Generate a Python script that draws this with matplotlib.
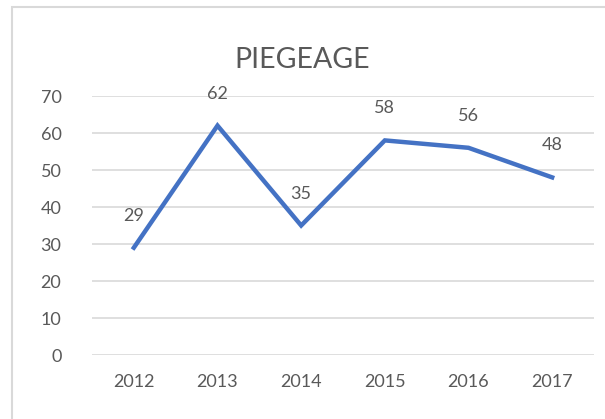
import matplotlib.pyplot as plt
from matplotlib.patches import Rectangle

years = ['2012', '2013', '2014', '2015', '2016', '2017']
values = [29, 62, 35, 58, 56, 48]
title = 'PIEGEAGE'

plt.rcParams['font.family'] = ['Lato', 'DejaVu Sans']
txt = '#595959'

fig = plt.figure(figsize=(6.05, 4.19), dpi=100)
# chart area border like in excel
fig.patches.append(Rectangle((12 / 605, -0.1), 1.2, 1 - 7 / 419 + 0.1,
                             transform=fig.transFigure, fill=False,
                             edgecolor='#D9D9D9', linewidth=1.5))
ax = fig.add_axes([92 / 605, 1 - 355 / 419, 502 / 605, 259 / 419])

x = range(len(years))
ax.plot(x, values, color='#4472C4', linewidth=3.2, solid_joinstyle='miter', zorder=3)
for xi, v in zip(x, values):
    ax.annotate(str(v), (xi, v), xytext=(0, 23), textcoords='offset points',
                ha='center', va='center', fontsize=13, color=txt)

ax.set_xlim(-0.5, len(years) - 0.5)
ax.set_ylim(0, 70)
ax.set_yticks(range(0, 71, 10))
ax.set_xticks(list(x))
ax.set_xticklabels(years)
ax.grid(axis='y', color='#D9D9D9', linewidth=1.2)
ax.set_axisbelow(True)
for s in ax.spines.values():
    s.set_visible(False)
ax.tick_params(length=0, labelsize=13, labelcolor=txt)
ax.tick_params(axis='y', pad=22)
ax.tick_params(axis='x', pad=14)

fig.text(302 / 605, 1 - 60 / 419, title, ha='center', va='center',
         fontsize=20.5, color=txt)

fig.savefig('out.png', dpi=100)
